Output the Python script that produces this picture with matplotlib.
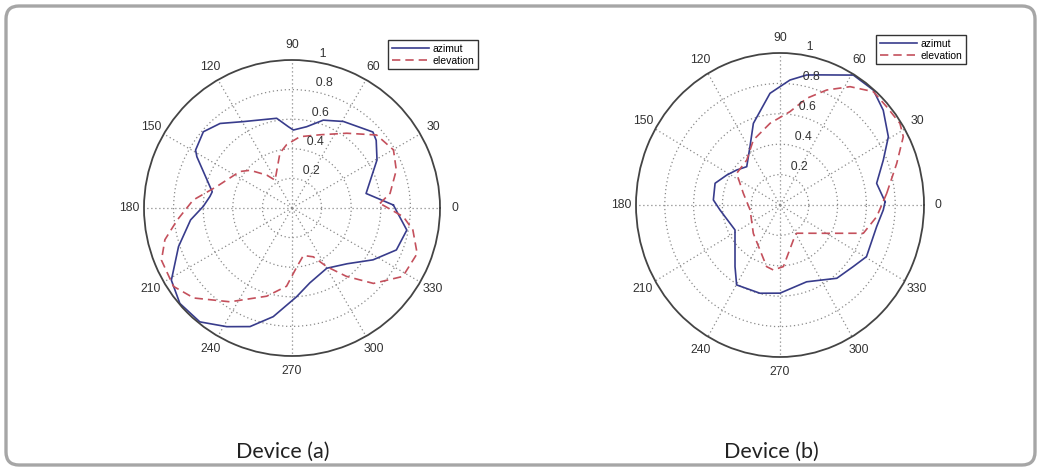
import numpy as np
import matplotlib
matplotlib.use("Agg")
import matplotlib.pyplot as plt
from matplotlib.patches import FancyBboxPatch

# Radiation patterns (angle in degrees, normalised magnitude)
dev_a_az_deg = [1.7, 11.1, 29.5, 38.8, 43.2, 59.3, 70.4, 79.8, 89, 92.6, 99.7, 119.4,
                130.4, 139.3, 149, 151.7, 168.5, 172, 179, 186.7, 198.8, 210.9, 220.4,
                231, 241.2, 250.5, 260.2, 273, 283.4, 300, 314.7, 327.4, 338.1, 349.1]
dev_a_az_r = [0.685, 0.51, 0.66, 0.73, 0.75, 0.68, 0.63, 0.558, 0.527, 0.55, 0.615, 0.67,
              0.75, 0.79, 0.76, 0.73, 0.55, 0.56, 0.60, 0.69, 0.81, 0.95, 0.995,
              0.99, 0.915, 0.85, 0.745, 0.60, 0.52, 0.47, 0.53, 0.65, 0.76, 0.79]

dev_a_el_deg = [3, 8.5, 20, 29.8, 40.8, 53.8, 69, 83.6, 94.8, 102.4, 121.3, 127.5, 137.9,
                145, 164.2, 175.4, 186, 194, 201.8, 213.5, 222.5, 236.5, 254, 266,
                274.6, 283.5, 293.6, 300.6, 308.5, 317.2, 328.3, 340, 349.7, 355.5]
dev_a_el_r = [0.595, 0.67, 0.75, 0.79, 0.755, 0.626, 0.53, 0.485, 0.43, 0.38, 0.22, 0.28, 0.38,
              0.43, 0.53, 0.67, 0.78, 0.885, 0.95, 0.96, 0.90, 0.76, 0.62, 0.53,
              0.40, 0.33, 0.36, 0.46, 0.59, 0.75, 0.88, 0.90, 0.83, 0.755]

dev_b_az_deg = [1.7, 12, 22.4, 30.8, 41, 49.4, 59.2, 72, 77.8, 85.2, 95.4, 109, 118.5,
                132.5, 142.6, 152, 162.4, 175.9, 184.5, 207.7, 232.4, 240.2, 256.5,
                270, 290.1, 309.3, 321.4, 330.5, 348, 357.4]
dev_b_az_r = [0.73, 0.686, 0.776, 0.876, 0.95, 0.996, 0.995, 0.9, 0.875, 0.825, 0.738, 0.568, 0.437,
              0.342, 0.379, 0.419, 0.473, 0.464, 0.418, 0.353, 0.512, 0.606, 0.597,
              0.58, 0.538, 0.623, 0.65, 0.69, 0.686, 0.718]

dev_b_el_deg = [5.9, 18.7, 27.7, 32.8, 41.1, 49, 58, 66.8, 75.2, 83.6, 97.3, 113.4, 128,
                145.4, 163.2, 189, 225.2, 257.1, 263.8, 273.3, 292, 302, 331.8, 342.2, 353.5]
dev_b_el_r = [0.745, 0.856, 0.967, 0.991, 0.983, 0.988, 0.918, 0.823, 0.726, 0.618, 0.542, 0.466, 0.375,
              0.366, 0.266, 0.21, 0.263, 0.416, 0.43, 0.406, 0.248, 0.219, 0.394, 0.608, 0.676]

ring_values = [0.2, 0.4, 0.6, 0.8, 1.0]
angle_labels = list(range(0, 360, 30))
series_names = ["azimut", "elevation"]
panel_titles = ["Device (a)", "Device (b)"]

AZ_COLOR = "#383c8c"
EL_COLOR = "#c4505c"
GRID_COLOR = "#8a8a8a"
RIM_COLOR = "#444444"
LABEL_FONT = ["Liberation Sans", "DejaVu Sans"]

W, H = 1040, 472
fig = plt.figure(figsize=(W / 100, H / 100), dpi=100)
fig.patch.set_facecolor("white")


def px_box(x0, y0, x1, y1):
    return [x0 / W, 1 - y1 / H, (x1 - x0) / W, (y1 - y0) / H]


def closed(deg, r):
    t = np.deg2rad(np.r_[deg, deg[0]])
    return t, np.r_[r, r[0]]


def polar_panel(box, az, el, legend_xy):
    ax = fig.add_axes(box, projection="polar")
    ax.set_aspect("auto")
    ax.set_ylim(0, 1)
    ax.set_xticks(np.deg2rad(angle_labels))
    ax.set_yticks(ring_values[:-1])
    ax.set_xticklabels([])
    ax.set_yticklabels([])
    ax.grid(True, color=GRID_COLOR, linestyle=(0, (1, 2.2)), linewidth=0.9)
    ax.spines["polar"].set_color(RIM_COLOR)
    ax.spines["polar"].set_linewidth(1.3)
    ax.tick_params(length=0)

    for a in angle_labels:
        ax.text(np.deg2rad(a), 1.1, str(a), ha="center", va="center",
                fontsize=8.8, color="#333333", family=LABEL_FONT, clip_on=False)
    for rv in ring_values:
        ax.text(np.deg2rad(82), rv + 0.01, "  " + f"{rv:g}", ha="left", va="bottom",
                fontsize=8.8, color="#333333", family=LABEL_FONT, clip_on=False)

    t, r = closed(*az)
    l1, = ax.plot(t, r, color=AZ_COLOR, linewidth=1.2, label=series_names[0])
    t, r = closed(*el)
    l2, = ax.plot(t, r, color=EL_COLOR, linewidth=1.2, linestyle=(0, (5, 3)),
                  label=series_names[1])

    leg = fig.legend(handles=[l1, l2], loc="upper left",
                     bbox_to_anchor=(legend_xy[0] / W, 1 - legend_xy[1] / H),
                     fancybox=False, framealpha=1, edgecolor="#333333",
                     handlelength=3.6, handletextpad=0.3,
                     borderpad=0.35, labelspacing=0.2, borderaxespad=0,
                     prop={"family": LABEL_FONT, "size": 7.5})
    leg.get_frame().set_linewidth(1.0)
    return ax


polar_panel(px_box(144, 60, 440, 356), (dev_a_az_deg, dev_a_az_r),
            (dev_a_el_deg, dev_a_el_r), (388, 40))
polar_panel(px_box(636, 53, 924, 357), (dev_b_az_deg, dev_b_az_r),
            (dev_b_el_deg, dev_b_el_r), (876, 35))

for title, cx in zip(panel_titles, [283, 771]):
    fig.text(cx / W, 1 - 458 / H, title, ha="center", va="baseline",
             fontsize=15.5, family=["Lato", "DejaVu Sans"], color="#222222")

# Rounded outer frame, drawn in inches so the corner radius stays circular
frame = FancyBboxPatch((6 / 100, 7 / 100), (1035 - 6) / 100, (465 - 6) / 100,
                       boxstyle="round,pad=0,rounding_size=0.13",
                       transform=fig.dpi_scale_trans, facecolor="none",
                       edgecolor="#a6a6a6", linewidth=2.4, zorder=10)
fig.patches.append(frame)

fig.savefig("out.png", dpi=100, facecolor="white")
